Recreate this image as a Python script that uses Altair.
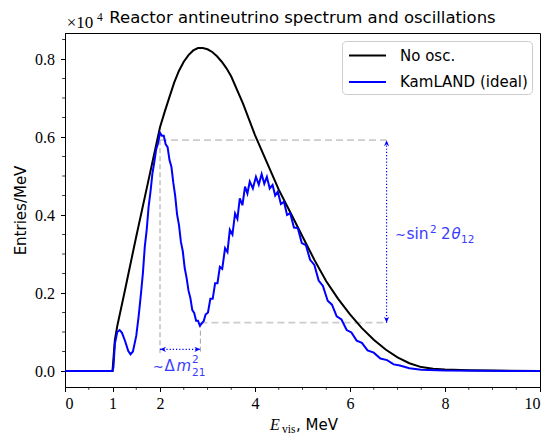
import altair as alt
import pandas as pd

# ---------------- data (entries/MeV in units of 1e4) ----------------
e_noosc = [0.0, 1.0, 1.05, 1.1, 1.25, 1.5, 1.75, 2.0, 2.1, 2.2,
           2.3, 2.4, 2.5, 2.6, 2.7, 2.8, 2.9, 3.0, 3.1, 3.2,
           3.3, 3.4, 3.5, 3.75, 4.0, 4.25,
           4.5, 4.75, 5.0, 5.25, 5.5, 5.75, 6.0, 6.25, 6.5, 6.75,
           7.0, 7.25, 7.5, 7.75, 8.0, 8.5, 9.0, 10.0]
n_noosc = [0.0, 0.0, 0.08, 0.115, 0.2, 0.345, 0.485, 0.625, 0.665, 0.703,
           0.74, 0.77, 0.793, 0.81, 0.822, 0.828, 0.828, 0.825, 0.818, 0.807,
           0.793, 0.776, 0.755, 0.685, 0.605, 0.535,
           0.465, 0.405, 0.345, 0.285, 0.23, 0.185, 0.145, 0.11, 0.08, 0.055,
           0.035, 0.02, 0.01, 0.006, 0.004, 0.002, 0.001, 0.0]

e_kam = [0.0, 1.0, 1.02, 1.05, 1.1, 1.15, 1.2, 1.27, 1.33, 1.38, 1.43, 1.5, 1.55,
         1.60, 1.64, 1.68, 1.72, 1.76, 1.80, 1.84, 1.88, 1.92, 1.96,
         2.00, 2.04, 2.08, 2.12, 2.16, 2.20, 2.24, 2.28, 2.32, 2.36,
         2.40, 2.44, 2.48, 2.52, 2.56, 2.60, 2.64, 2.68, 2.72, 2.76,
         2.80, 2.84, 2.88,
         2.92, 2.96, 3.01, 3.06, 3.11, 3.16, 3.21, 3.26, 3.31, 3.37,
         3.42, 3.47, 3.525, 3.58, 3.63, 3.68, 3.735, 3.79, 3.84, 3.89,
         3.955, 4.02, 4.08, 4.14, 4.195, 4.25, 4.31, 4.37, 4.425, 4.48,
         4.545, 4.61, 4.675, 4.74, 4.82, 4.9, 4.985, 5.07, 5.16, 5.25,
         5.34, 5.43, 5.53, 5.62, 5.72, 5.82, 5.93, 6.03, 6.14, 6.25,
         6.37, 6.5, 6.64, 6.78, 6.92, 7.05, 7.25, 7.5, 8.0, 10.0]
n_kam = [0.0, 0.0, 0.01, 0.07, 0.1, 0.105, 0.098, 0.075, 0.052, 0.043, 0.05, 0.09, 0.14,
         0.199, 0.251, 0.319, 0.362, 0.421, 0.460, 0.506, 0.536, 0.569, 0.584,
         0.611, 0.603, 0.603, 0.581, 0.574, 0.541, 0.524, 0.483, 0.449, 0.401,
         0.374, 0.331, 0.307, 0.264, 0.239, 0.206, 0.187, 0.156, 0.149, 0.129,
         0.129, 0.116, 0.122,
         0.128, 0.145, 0.15, 0.185, 0.185, 0.225, 0.225, 0.267, 0.262, 0.315,
         0.305, 0.362, 0.35, 0.404, 0.39, 0.443, 0.425, 0.473, 0.455, 0.486,
         0.468, 0.498, 0.478, 0.505, 0.48, 0.498, 0.468, 0.477, 0.45, 0.46,
         0.428, 0.434, 0.4, 0.405, 0.368, 0.367, 0.328, 0.323, 0.285, 0.272,
         0.232, 0.218, 0.18, 0.17, 0.14, 0.132, 0.105, 0.099, 0.078, 0.072,
         0.053, 0.047, 0.032, 0.028, 0.017, 0.014, 0.007, 0.003, 0.001, 0.0]

series_names = ["No osc.", "KamLAND (ideal)"]
series_colors = ["#000000", "#0000ff"]

x_major = [0, 1, 2, 4, 6, 8, 10]
x_minor = [0.5, 1.5, 2.5, 3, 3.5, 4.5, 5, 5.5, 6.5, 7, 7.5, 8.5, 9, 9.5]
y_major = [0.0, 0.2, 0.4, 0.6, 0.8]
y_minor = [0.05, 0.1, 0.15, 0.25, 0.3, 0.35, 0.45, 0.5, 0.55, 0.65, 0.7, 0.75, 0.85]

# annotation anchors (data units)
peak_e, dip_e = 2.0, 2.85
peak_n, dip_n = 0.592, 0.124
arrow_e = 6.77
harrow_n = 0.0556
guide_bottom = 0.046

x_dom = [0, 10]
y_dom = [-0.041, 0.8667]

BLUE = "#0000ff"
TXTBLUE = "#3b3bff"
SANS = "DejaVu Sans"
SERIF = "Liberation Serif"

assert len(e_noosc) == len(n_noosc) and len(e_kam) == len(n_kam)

df_lines = pd.concat([
    pd.DataFrame({"E": e_noosc, "N": n_noosc, "series": series_names[0]}),
    pd.DataFrame({"E": e_kam, "N": n_kam, "series": series_names[1]}),
])

xs = alt.Scale(domain=x_dom, nice=False, zero=False)
ys = alt.Scale(domain=y_dom, nice=False, zero=False)

x_axis = alt.Axis(values=x_major, format="d", labelFont=SERIF, labelFontSize=16,
                  tickSize=4.5, labelPadding=4, title=None, grid=False)
y_axis = alt.Axis(values=y_major, format=".1f", labelFont=SERIF, labelFontSize=16,
                  tickSize=4.5, labelPadding=6, labelBaseline="middle",
                  title="Entries/MeV", titleFont=SANS, titleFontSize=15,
                  titleFontWeight="normal", titleColor="black",
                  titleX=-45, titleY=177, titleBaseline="middle", grid=False)
X = alt.X("E:Q", scale=xs, axis=x_axis, title=None)
Y = alt.Y("N:Q", scale=ys, axis=y_axis, title="Entries/MeV")

color = alt.Color(
    "series:N",
    scale=alt.Scale(domain=series_names, range=series_colors),
    legend=alt.Legend(
        title=None, orient="top-right", offset=8,
        symbolType="M-2,0H2", symbolSize=342, symbolStrokeWidth=2, symbolOffset=11,
        labelFont=SANS, labelFontSize=15, labelColor="black", labelOffset=22,
        padding=4, rowPadding=7.5, strokeColor="#cccccc", fillColor="white",
        cornerRadius=4,
    ),
)

base = alt.Chart(df_lines)
black_line = base.transform_filter(alt.datum.series == series_names[0]).mark_line(
    strokeWidth=2).encode(x=X, y=Y, color=color)
blue_line = base.transform_filter(alt.datum.series == series_names[1]).mark_line(
    strokeWidth=2).encode(x=X, y=Y, color=color)

# gray guide lines
df_hguide = pd.DataFrame({"E": [peak_e, dip_e], "E2": [arrow_e, arrow_e], "N": [peak_n, dip_n]})
hguide = alt.Chart(df_hguide).mark_rule(color="#cccccc", strokeWidth=1.8, strokeDash=[7, 4]).encode(
    x=X, x2="E2:Q", y=Y)
df_vguide = pd.DataFrame({"E": [peak_e, dip_e], "N": [peak_n, dip_n], "N2": [guide_bottom, guide_bottom]})
vguide = alt.Chart(df_vguide).mark_rule(color="#a0a0a0", strokeWidth=1, strokeDash=[5, 3]).encode(
    x=X, y=Y, y2="N2:Q")

# blue dotted double arrows
df_harrow = pd.DataFrame({"E": [peak_e], "E2": [dip_e], "N": [harrow_n]})
harrow = alt.Chart(df_harrow).mark_rule(color=BLUE, strokeWidth=1.2, strokeDash=[1.2, 2]).encode(
    x=X, x2="E2:Q", y=Y)
df_varrow = pd.DataFrame({"E": [arrow_e], "N": [dip_n], "N2": [peak_n]})
varrow = alt.Chart(df_varrow).mark_rule(color=BLUE, strokeWidth=1.2, strokeDash=[1.2, 2]).encode(
    x=X, y=Y, y2="N2:Q")
df_heads = pd.DataFrame({
    "E": [peak_e, dip_e, arrow_e, arrow_e],
    "N": [harrow_n, harrow_n, peak_n, dip_n],
    "ang": [180, 0, 270, 90],
})
heads = alt.Chart(df_heads).mark_point(
    shape="M0,0L-2,-0.85L-1.4,0L-2,0.85Z", filled=True, size=36, color=BLUE, opacity=1).encode(
    x=X, y=Y, angle=alt.Angle("ang:Q", scale=None))

# annotation text pieces
df_ann_up = pd.DataFrame({
    "E": [1.846, 2.095, 2.674, 2.674, 6.947, 7.189, 7.684, 7.916, 8.337],
    "N": [0.0008, 0.0008, 0.0205, -0.0128, 0.3377, 0.3377, 0.353, 0.3377, 0.329],
    "txt": ["∼", "Δ", "2", "21", "∼", "sin", "2", "2", "12"],
    "fs": [13, 15, 10.5, 10.5, 13, 15.5, 10.5, 15, 10.5],
})
ann_up = alt.Chart(df_ann_up).mark_text(align="left", baseline="alphabetic", font=SANS, color=TXTBLUE).encode(
    x=X, y=Y, text="txt:N", size=alt.Size("fs:Q", scale=None))
df_ann_it = pd.DataFrame({"E": [2.347, 8.137], "N": [0.0008, 0.3377], "txt": ["m", "θ"]})
ann_it = alt.Chart(df_ann_it).mark_text(align="left", baseline="alphabetic", font=SANS, fontStyle="italic",
                                        fontSize=15, color=TXTBLUE).encode(x=X, y=Y, text="txt:N")

# offset text  x10^4  (serif), placed just above the top-left corner
df_off = pd.DataFrame({"E": [0.035, 0.674], "N": [0.879, 0.8975], "txt": ["×10", "4"], "fs": [17, 11.5]})
offset_txt = alt.Chart(df_off).mark_text(align="left", baseline="alphabetic", font=SERIF, color="black").encode(
    x=X, y=Y, text="txt:N", size=alt.Size("fs:Q", scale=None))

# minor ticks
df_xminor = pd.DataFrame({"E": x_minor})
xminor = alt.Chart(df_xminor).mark_rule(color="black", strokeWidth=0.8).encode(
    x=X, y=alt.value(354), y2=alt.value(356.8))
df_yminor = pd.DataFrame({"N": y_minor})
yminor = alt.Chart(df_yminor).mark_rule(color="black", strokeWidth=0.8).encode(
    y=Y, x=alt.value(0), x2=alt.value(-2.8))

# title and x-axis title  E_vis, MeV
one = pd.DataFrame({"k": [0]})
title = alt.Chart(one).mark_text(text="Reactor antineutrino spectrum and oscillations", font=SANS,
                                 fontSize=16.5, align="center", baseline="alphabetic", color="black").encode(
    x=alt.value(237.5), y=alt.value(-10))
xt_E = alt.Chart(one).mark_text(text="E", font=SERIF, fontStyle="italic", fontSize=16, align="left",
                                baseline="alphabetic", color="black").encode(x=alt.value(205), y=alt.value(397))
xt_vis = alt.Chart(one).mark_text(text="vis", font=SERIF, fontSize=11.5, align="left",
                                  baseline="alphabetic", color="black").encode(x=alt.value(217), y=alt.value(400))
xt_mev = alt.Chart(one).mark_text(text=", MeV", font=SANS, fontSize=15, align="left",
                                  baseline="alphabetic", color="black").encode(x=alt.value(231), y=alt.value(397))

chart = alt.layer(
    hguide, vguide, black_line, blue_line, harrow, varrow, heads, ann_up, ann_it, offset_txt,
    xminor, yminor, title, xt_E, xt_vis, xt_mev,
).properties(
    width=475, height=354,
    autosize=alt.AutoSizeParams(type="none"),
    padding={"left": 65, "top": 33, "right": 18, "bottom": 47},
).configure_view(
    stroke="black", strokeWidth=1
).configure_axis(
    domainColor="black", domainWidth=1, tickColor="black", tickWidth=1, labelColor="black"
)

chart.save("out.html", embed_options={"renderer": "svg", "actions": False})
